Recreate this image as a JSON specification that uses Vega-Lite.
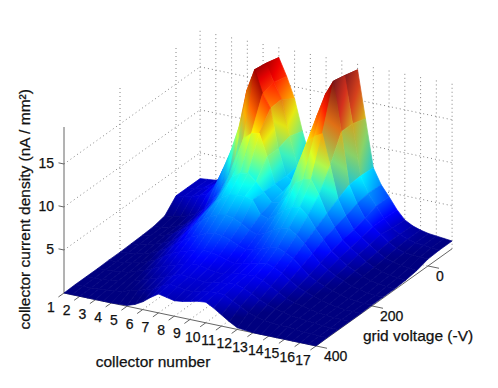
{"$schema":"https://vega.github.io/schema/vega-lite/v6.json","width":498,"height":388,"autosize":{"type":"fit","contains":"padding"},"padding":0,"background":"white","config":{"view":{"stroke":null}},
"datasets":{
"lines":[
{"k":"g","c":1,"v":200,"z":0,"c2":1,"v2":200,"z2":19.3},{"k":"g","c":1,"v":0,"z":0,"c2":1,"v2":0,"z2":19.3},{"k":"g","c":1,"v":-86,"z":0,"c2":1,"v2":-86,"z2":19.3},
{"k":"g","c":2,"v":-86,"z":0,"c2":2,"v2":-86,"z2":19.3},{"k":"g","c":3,"v":-86,"z":0,"c2":3,"v2":-86,"z2":19.3},{"k":"g","c":4,"v":-86,"z":0,"c2":4,"v2":-86,"z2":19.3},{"k":"g","c":5,"v":-86,"z":0,"c2":5,"v2":-86,"z2":19.3},{"k":"g","c":6,"v":-86,"z":0,"c2":6,"v2":-86,"z2":19.3},{"k":"g","c":7,"v":-86,"z":0,"c2":7,"v2":-86,"z2":19.3},{"k":"g","c":8,"v":-86,"z":0,"c2":8,"v2":-86,"z2":19.3},{"k":"g","c":9,"v":-86,"z":0,"c2":9,"v2":-86,"z2":19.3},{"k":"g","c":10,"v":-86,"z":0,"c2":10,"v2":-86,"z2":19.3},{"k":"g","c":11,"v":-86,"z":0,"c2":11,"v2":-86,"z2":19.3},{"k":"g","c":12,"v":-86,"z":0,"c2":12,"v2":-86,"z2":19.3},{"k":"g","c":13,"v":-86,"z":0,"c2":13,"v2":-86,"z2":19.3},{"k":"g","c":14,"v":-86,"z":0,"c2":14,"v2":-86,"z2":19.3},{"k":"g","c":15,"v":-86,"z":0,"c2":15,"v2":-86,"z2":19.3},{"k":"g","c":16,"v":-86,"z":0,"c2":16,"v2":-86,"z2":19.3},{"k":"g","c":17,"v":-86,"z":0,"c2":17,"v2":-86,"z2":19.3},
{"k":"g","c":1,"v":400,"z":5,"c2":1,"v2":-86,"z2":5},{"k":"g","c":1,"v":400,"z":10,"c2":1,"v2":-86,"z2":10},{"k":"g","c":1,"v":400,"z":15,"c2":1,"v2":-86,"z2":15},
{"k":"g","c":1,"v":-86,"z":5,"c2":17,"v2":-86,"z2":5},{"k":"g","c":1,"v":-86,"z":10,"c2":17,"v2":-86,"z2":10},{"k":"g","c":1,"v":-86,"z":15,"c2":17,"v2":-86,"z2":15},
{"k":"g","c":2,"v":400,"z":0,"c2":2,"v2":-86,"z2":0},{"k":"g","c":3,"v":400,"z":0,"c2":3,"v2":-86,"z2":0},{"k":"g","c":4,"v":400,"z":0,"c2":4,"v2":-86,"z2":0},{"k":"g","c":5,"v":400,"z":0,"c2":5,"v2":-86,"z2":0},{"k":"g","c":6,"v":400,"z":0,"c2":6,"v2":-86,"z2":0},{"k":"g","c":7,"v":400,"z":0,"c2":7,"v2":-86,"z2":0},{"k":"g","c":8,"v":400,"z":0,"c2":8,"v2":-86,"z2":0},{"k":"g","c":9,"v":400,"z":0,"c2":9,"v2":-86,"z2":0},{"k":"g","c":10,"v":400,"z":0,"c2":10,"v2":-86,"z2":0},{"k":"g","c":11,"v":400,"z":0,"c2":11,"v2":-86,"z2":0},{"k":"g","c":12,"v":400,"z":0,"c2":12,"v2":-86,"z2":0},{"k":"g","c":13,"v":400,"z":0,"c2":13,"v2":-86,"z2":0},
{"k":"g","c":1,"v":200,"z":0,"c2":17,"v2":200,"z2":0},{"k":"g","c":1,"v":0,"z":0,"c2":17,"v2":0,"z2":0},
{"k":"a","c":1,"v":400,"z":0,"c2":1,"v2":400,"z2":19.3},{"k":"a","c":1,"v":400,"z":0,"c2":17,"v2":400,"z2":0},{"k":"a","c":17,"v":400,"z":0,"c2":17,"v2":-86,"z2":0},
{"k":"a","c":1,"v":400,"z":5,"c2":0.65,"v2":400,"z2":5},{"k":"a","c":1,"v":400,"z":10,"c2":0.65,"v2":400,"z2":10},{"k":"a","c":1,"v":400,"z":15,"c2":0.65,"v2":400,"z2":15},
{"k":"a","c":1,"v":400,"z":0,"c2":1,"v2":420,"z2":0},{"k":"a","c":2,"v":400,"z":0,"c2":2,"v2":420,"z2":0},{"k":"a","c":3,"v":400,"z":0,"c2":3,"v2":420,"z2":0},{"k":"a","c":4,"v":400,"z":0,"c2":4,"v2":420,"z2":0},{"k":"a","c":5,"v":400,"z":0,"c2":5,"v2":420,"z2":0},{"k":"a","c":6,"v":400,"z":0,"c2":6,"v2":420,"z2":0},{"k":"a","c":7,"v":400,"z":0,"c2":7,"v2":420,"z2":0},{"k":"a","c":8,"v":400,"z":0,"c2":8,"v2":420,"z2":0},{"k":"a","c":9,"v":400,"z":0,"c2":9,"v2":420,"z2":0},{"k":"a","c":10,"v":400,"z":0,"c2":10,"v2":420,"z2":0},{"k":"a","c":11,"v":400,"z":0,"c2":11,"v2":420,"z2":0},{"k":"a","c":12,"v":400,"z":0,"c2":12,"v2":420,"z2":0},{"k":"a","c":13,"v":400,"z":0,"c2":13,"v2":420,"z2":0},{"k":"a","c":14,"v":400,"z":0,"c2":14,"v2":420,"z2":0},{"k":"a","c":15,"v":400,"z":0,"c2":15,"v2":420,"z2":0},{"k":"a","c":16,"v":400,"z":0,"c2":16,"v2":420,"z2":0},{"k":"a","c":17,"v":400,"z":0,"c2":17,"v2":420,"z2":0},
{"k":"a","c":17,"v":400,"z":0,"c2":17.7,"v2":400,"z2":0},{"k":"a","c":17,"v":200,"z":0,"c2":17.7,"v2":200,"z2":0},{"k":"a","c":17,"v":0,"z":0,"c2":17.7,"v2":0,"z2":0}
],
"clabels":[{"t":"1","c":1,"v":400,"z":0},{"t":"2","c":2,"v":400,"z":0},{"t":"3","c":3,"v":400,"z":0},{"t":"4","c":4,"v":400,"z":0},{"t":"5","c":5,"v":400,"z":0},{"t":"6","c":6,"v":400,"z":0},{"t":"7","c":7,"v":400,"z":0},{"t":"8","c":8,"v":400,"z":0},{"t":"9","c":9,"v":400,"z":0},{"t":"10","c":10,"v":400,"z":0},{"t":"11","c":11,"v":400,"z":0},{"t":"12","c":12,"v":400,"z":0},{"t":"13","c":13,"v":400,"z":0},{"t":"14","c":14,"v":400,"z":0},{"t":"15","c":15,"v":400,"z":0},{"t":"16","c":16,"v":400,"z":0},{"t":"17","c":17,"v":400,"z":0}],
"vlabels":[{"t":"0","c":17,"v":0,"z":0},{"t":"200","c":17,"v":200,"z":0},{"t":"400","c":17,"v":400,"z":0}],
"zlabels":[{"t":"5","c":1,"v":400,"z":5},{"t":"10","c":1,"v":400,"z":10},{"t":"15","c":1,"v":400,"z":15}],
"nodes":[
{"c":1,"v":-86,"z":2},{"c":1.5,"v":-86,"z":2.1},{"c":2,"v":-86,"z":2.2},{"c":2.5,"v":-86,"z":2.6},{"c":3,"v":-86,"z":3.2},{"c":3.5,"v":-86,"z":4.5},{"c":4,"v":-86,"z":6.5},{"c":4.5,"v":-86,"z":9.5},{"c":5,"v":-86,"z":13},{"c":5.5,"v":-86,"z":16},{"c":6,"v":-86,"z":18},{"c":6.5,"v":-86,"z":16},{"c":7,"v":-86,"z":13.6},{"c":7.5,"v":-86,"z":10},{"c":8,"v":-86,"z":7},{"c":8.5,"v":-86,"z":6},{"c":9,"v":-86,"z":6.5},{"c":9.5,"v":-86,"z":9},{"c":10,"v":-86,"z":13},{"c":10.5,"v":-86,"z":16},{"c":11,"v":-86,"z":18.5},{"c":11.5,"v":-86,"z":13},{"c":12,"v":-86,"z":7.5},{"c":12.5,"v":-86,"z":5.7},{"c":13,"v":-86,"z":4.5},{"c":13.5,"v":-86,"z":3.2},{"c":14,"v":-86,"z":2.2},{"c":14.5,"v":-86,"z":1.7},{"c":15,"v":-86,"z":1.4},{"c":15.5,"v":-86,"z":1.2},{"c":16,"v":-86,"z":1.1},{"c":16.5,"v":-86,"z":1},{"c":17,"v":-86,"z":0.9},
{"c":1,"v":-40,"z":2},{"c":1.5,"v":-40,"z":2.1},{"c":2,"v":-40,"z":2.3},{"c":2.5,"v":-40,"z":2.7},{"c":3,"v":-40,"z":3.3},{"c":3.5,"v":-40,"z":4.6},{"c":4,"v":-40,"z":6.6},{"c":4.5,"v":-40,"z":9.6},{"c":5,"v":-40,"z":13},{"c":5.5,"v":-40,"z":16.3},{"c":6,"v":-40,"z":18.4},{"c":6.5,"v":-40,"z":16.4},{"c":7,"v":-40,"z":14.6},{"c":7.5,"v":-40,"z":10.5},{"c":8,"v":-40,"z":7.2},{"c":8.5,"v":-40,"z":6.3},{"c":9,"v":-40,"z":7},{"c":9.5,"v":-40,"z":9.8},{"c":10,"v":-40,"z":13.8},{"c":10.5,"v":-40,"z":16.8},{"c":11,"v":-40,"z":18.9},{"c":11.5,"v":-40,"z":13.5},{"c":12,"v":-40,"z":7.6},{"c":12.5,"v":-40,"z":5.8},{"c":13,"v":-40,"z":4.5},{"c":13.5,"v":-40,"z":3.2},{"c":14,"v":-40,"z":2.3},{"c":14.5,"v":-40,"z":1.8},{"c":15,"v":-40,"z":1.4},{"c":15.5,"v":-40,"z":1.2},{"c":16,"v":-40,"z":1.1},{"c":16.5,"v":-40,"z":1},{"c":17,"v":-40,"z":0.9},
{"c":1,"v":0,"z":2},{"c":1.5,"v":0,"z":2.1},{"c":2,"v":0,"z":2.3},{"c":2.5,"v":0,"z":2.6},{"c":3,"v":0,"z":3},{"c":3.5,"v":0,"z":4.2},{"c":4,"v":0,"z":6.3},{"c":4.5,"v":0,"z":8.6},{"c":5,"v":0,"z":11.5},{"c":5.5,"v":0,"z":16},{"c":6,"v":0,"z":18.6},{"c":6.5,"v":0,"z":16},{"c":7,"v":0,"z":14.5},{"c":7.5,"v":0,"z":10},{"c":8,"v":0,"z":7},{"c":8.5,"v":0,"z":6.5},{"c":9,"v":0,"z":8},{"c":9.5,"v":0,"z":12},{"c":10,"v":0,"z":15},{"c":10.5,"v":0,"z":17.5},{"c":11,"v":0,"z":19.2},{"c":11.5,"v":0,"z":13.5},{"c":12,"v":0,"z":7.5},{"c":12.5,"v":0,"z":5.5},{"c":13,"v":0,"z":4},{"c":13.5,"v":0,"z":3.2},{"c":14,"v":0,"z":2.5},{"c":14.5,"v":0,"z":1.8},{"c":15,"v":0,"z":1.3},{"c":15.5,"v":0,"z":1},{"c":16,"v":0,"z":0.9},{"c":16.5,"v":0,"z":0.85},{"c":17,"v":0,"z":0.8},
{"c":1,"v":40,"z":0.6},{"c":1.5,"v":40,"z":0.7},{"c":2,"v":40,"z":0.9},{"c":2.5,"v":40,"z":1.2},{"c":3,"v":40,"z":1.6},{"c":3.5,"v":40,"z":2.4},{"c":4,"v":40,"z":3.5},{"c":4.5,"v":40,"z":4.8},{"c":5,"v":40,"z":6.5},{"c":5.5,"v":40,"z":9},{"c":6,"v":40,"z":11.5},{"c":6.5,"v":40,"z":12.3},{"c":7,"v":40,"z":12.5},{"c":7.5,"v":40,"z":10},{"c":8,"v":40,"z":7},{"c":8.5,"v":40,"z":6.3},{"c":9,"v":40,"z":7.5},{"c":9.5,"v":40,"z":10},{"c":10,"v":40,"z":12.5},{"c":10.5,"v":40,"z":13.5},{"c":11,"v":40,"z":14},{"c":11.5,"v":40,"z":10.5},{"c":12,"v":40,"z":6.8},{"c":12.5,"v":40,"z":5},{"c":13,"v":40,"z":3.6},{"c":13.5,"v":40,"z":2.9},{"c":14,"v":40,"z":2.2},{"c":14.5,"v":40,"z":1.6},{"c":15,"v":40,"z":1.1},{"c":15.5,"v":40,"z":0.8},{"c":16,"v":40,"z":0.6},{"c":16.5,"v":40,"z":0.5},{"c":17,"v":40,"z":0.4},
{"c":1,"v":80,"z":0.3},{"c":1.5,"v":80,"z":0.4},{"c":2,"v":80,"z":0.6},{"c":2.5,"v":80,"z":0.9},{"c":3,"v":80,"z":1.3},{"c":3.5,"v":80,"z":2},{"c":4,"v":80,"z":2.8},{"c":4.5,"v":80,"z":3.8},{"c":5,"v":80,"z":5},{"c":5.5,"v":80,"z":6.5},{"c":6,"v":80,"z":8},{"c":6.5,"v":80,"z":8.6},{"c":7,"v":80,"z":8.8},{"c":7.5,"v":80,"z":8},{"c":8,"v":80,"z":7},{"c":8.5,"v":80,"z":6},{"c":9,"v":80,"z":6.2},{"c":9.5,"v":80,"z":7.2},{"c":10,"v":80,"z":8.8},{"c":10.5,"v":80,"z":9.4},{"c":11,"v":80,"z":9.6},{"c":11.5,"v":80,"z":8},{"c":12,"v":80,"z":6},{"c":12.5,"v":80,"z":4.6},{"c":13,"v":80,"z":3.3},{"c":13.5,"v":80,"z":2.6},{"c":14,"v":80,"z":2},{"c":14.5,"v":80,"z":1.4},{"c":15,"v":80,"z":0.9},{"c":15.5,"v":80,"z":0.6},{"c":16,"v":80,"z":0.4},{"c":16.5,"v":80,"z":0.3},{"c":17,"v":80,"z":0.2},
{"c":1,"v":120,"z":0.2},{"c":1.5,"v":120,"z":0.3},{"c":2,"v":120,"z":0.5},{"c":2.5,"v":120,"z":0.8},{"c":3,"v":120,"z":1.2},{"c":3.5,"v":120,"z":1.8},{"c":4,"v":120,"z":2.5},{"c":4.5,"v":120,"z":3.4},{"c":5,"v":120,"z":4.5},{"c":5.5,"v":120,"z":5.5},{"c":6,"v":120,"z":6.5},{"c":6.5,"v":120,"z":7},{"c":7,"v":120,"z":7.2},{"c":7.5,"v":120,"z":7.2},{"c":8,"v":120,"z":7},{"c":8.5,"v":120,"z":5.5},{"c":9,"v":120,"z":5.2},{"c":9.5,"v":120,"z":5.8},{"c":10,"v":120,"z":6.6},{"c":10.5,"v":120,"z":7.1},{"c":11,"v":120,"z":7.3},{"c":11.5,"v":120,"z":6.5},{"c":12,"v":120,"z":5.2},{"c":12.5,"v":120,"z":4.1},{"c":13,"v":120,"z":3},{"c":13.5,"v":120,"z":2.3},{"c":14,"v":120,"z":1.7},{"c":14.5,"v":120,"z":1.2},{"c":15,"v":120,"z":0.8},{"c":15.5,"v":120,"z":0.5},{"c":16,"v":120,"z":0.3},{"c":16.5,"v":120,"z":0.2},{"c":17,"v":120,"z":0.1},
{"c":1,"v":160,"z":0.15},{"c":1.5,"v":160,"z":0.25},{"c":2,"v":160,"z":0.4},{"c":2.5,"v":160,"z":0.7},{"c":3,"v":160,"z":1},{"c":3.5,"v":160,"z":1.4},{"c":4,"v":160,"z":2},{"c":4.5,"v":160,"z":2.9},{"c":5,"v":160,"z":3.8},{"c":5.5,"v":160,"z":4.6},{"c":6,"v":160,"z":5.2},{"c":6.5,"v":160,"z":5.6},{"c":7,"v":160,"z":5.8},{"c":7.5,"v":160,"z":5.6},{"c":8,"v":160,"z":5.2},{"c":8.5,"v":160,"z":4.6},{"c":9,"v":160,"z":4.3},{"c":9.5,"v":160,"z":4.6},{"c":10,"v":160,"z":5.2},{"c":10.5,"v":160,"z":5.6},{"c":11,"v":160,"z":5.8},{"c":11.5,"v":160,"z":5.2},{"c":12,"v":160,"z":4.4},{"c":12.5,"v":160,"z":3.4},{"c":13,"v":160,"z":2.5},{"c":13.5,"v":160,"z":1.9},{"c":14,"v":160,"z":1.4},{"c":14.5,"v":160,"z":1},{"c":15,"v":160,"z":0.6},{"c":15.5,"v":160,"z":0.4},{"c":16,"v":160,"z":0.2},{"c":16.5,"v":160,"z":0.1},{"c":17,"v":160,"z":0.1},
{"c":1,"v":200,"z":0.1},{"c":1.5,"v":200,"z":0.2},{"c":2,"v":200,"z":0.3},{"c":2.5,"v":200,"z":0.5},{"c":3,"v":200,"z":0.8},{"c":3.5,"v":200,"z":1.2},{"c":4,"v":200,"z":1.7},{"c":4.5,"v":200,"z":2.4},{"c":5,"v":200,"z":3},{"c":5.5,"v":200,"z":3.6},{"c":6,"v":200,"z":4},{"c":6.5,"v":200,"z":4.4},{"c":7,"v":200,"z":4.6},{"c":7.5,"v":200,"z":4.5},{"c":8,"v":200,"z":4.2},{"c":8.5,"v":200,"z":3.8},{"c":9,"v":200,"z":3.5},{"c":9.5,"v":200,"z":3.7},{"c":10,"v":200,"z":4},{"c":10.5,"v":200,"z":4.3},{"c":11,"v":200,"z":4.5},{"c":11.5,"v":200,"z":4.1},{"c":12,"v":200,"z":3.6},{"c":12.5,"v":200,"z":2.8},{"c":13,"v":200,"z":2},{"c":13.5,"v":200,"z":1.5},{"c":14,"v":200,"z":1.1},{"c":14.5,"v":200,"z":0.8},{"c":15,"v":200,"z":0.5},{"c":15.5,"v":200,"z":0.3},{"c":16,"v":200,"z":0.2},{"c":16.5,"v":200,"z":0.1},{"c":17,"v":200,"z":0.1},
{"c":1,"v":240,"z":0.1},{"c":1.5,"v":240,"z":0.1},{"c":2,"v":240,"z":0.2},{"c":2.5,"v":240,"z":0.4},{"c":3,"v":240,"z":0.6},{"c":3.5,"v":240,"z":0.9},{"c":4,"v":240,"z":1.3},{"c":4.5,"v":240,"z":1.9},{"c":5,"v":240,"z":2.4},{"c":5.5,"v":240,"z":2.8},{"c":6,"v":240,"z":3.1},{"c":6.5,"v":240,"z":3.4},{"c":7,"v":240,"z":3.6},{"c":7.5,"v":240,"z":3.5},{"c":8,"v":240,"z":3.3},{"c":8.5,"v":240,"z":3},{"c":9,"v":240,"z":2.8},{"c":9.5,"v":240,"z":3},{"c":10,"v":240,"z":3.2},{"c":10.5,"v":240,"z":3.4},{"c":11,"v":240,"z":3.6},{"c":11.5,"v":240,"z":3.3},{"c":12,"v":240,"z":2.8},{"c":12.5,"v":240,"z":2.2},{"c":13,"v":240,"z":1.6},{"c":13.5,"v":240,"z":1.2},{"c":14,"v":240,"z":0.9},{"c":14.5,"v":240,"z":0.6},{"c":15,"v":240,"z":0.4},{"c":15.5,"v":240,"z":0.2},{"c":16,"v":240,"z":0.1},{"c":16.5,"v":240,"z":0.1},{"c":17,"v":240,"z":0.05},
{"c":1,"v":280,"z":0.05},{"c":1.5,"v":280,"z":0.1},{"c":2,"v":280,"z":0.15},{"c":2.5,"v":280,"z":0.25},{"c":3,"v":280,"z":0.4},{"c":3.5,"v":280,"z":0.7},{"c":4,"v":280,"z":1},{"c":4.5,"v":280,"z":1.4},{"c":5,"v":280,"z":1.8},{"c":5.5,"v":280,"z":2.1},{"c":6,"v":280,"z":2.4},{"c":6.5,"v":280,"z":2.7},{"c":7,"v":280,"z":2.9},{"c":7.5,"v":280,"z":2.9},{"c":8,"v":280,"z":2.7},{"c":8.5,"v":280,"z":2.5},{"c":9,"v":280,"z":2.5},{"c":9.5,"v":280,"z":2.7},{"c":10,"v":280,"z":2.9},{"c":10.5,"v":280,"z":3},{"c":11,"v":280,"z":3},{"c":11.5,"v":280,"z":2.7},{"c":12,"v":280,"z":2.2},{"c":12.5,"v":280,"z":1.7},{"c":13,"v":280,"z":1.2},{"c":13.5,"v":280,"z":0.9},{"c":14,"v":280,"z":0.7},{"c":14.5,"v":280,"z":0.5},{"c":15,"v":280,"z":0.3},{"c":15.5,"v":280,"z":0.2},{"c":16,"v":280,"z":0.1},{"c":16.5,"v":280,"z":0.1},{"c":17,"v":280,"z":0.05},
{"c":1,"v":320,"z":0.05},{"c":1.5,"v":320,"z":0.05},{"c":2,"v":320,"z":0.1},{"c":2.5,"v":320,"z":0.2},{"c":3,"v":320,"z":0.3},{"c":3.5,"v":320,"z":0.5},{"c":4,"v":320,"z":0.7},{"c":4.5,"v":320,"z":1},{"c":5,"v":320,"z":1.3},{"c":5.5,"v":320,"z":1.6},{"c":6,"v":320,"z":1.9},{"c":6.5,"v":320,"z":2.3},{"c":7,"v":320,"z":2.6},{"c":7.5,"v":320,"z":2.5},{"c":8,"v":320,"z":2.4},{"c":8.5,"v":320,"z":2.3},{"c":9,"v":320,"z":2.4},{"c":9.5,"v":320,"z":2.6},{"c":10,"v":320,"z":2.7},{"c":10.5,"v":320,"z":2.8},{"c":11,"v":320,"z":2.5},{"c":11.5,"v":320,"z":2.1},{"c":12,"v":320,"z":1.6},{"c":12.5,"v":320,"z":1.2},{"c":13,"v":320,"z":0.9},{"c":13.5,"v":320,"z":0.7},{"c":14,"v":320,"z":0.5},{"c":14.5,"v":320,"z":0.4},{"c":15,"v":320,"z":0.3},{"c":15.5,"v":320,"z":0.2},{"c":16,"v":320,"z":0.1},{"c":16.5,"v":320,"z":0.05},{"c":17,"v":320,"z":0.05},
{"c":1,"v":360,"z":0.05},{"c":1.5,"v":360,"z":0.05},{"c":2,"v":360,"z":0.05},{"c":2.5,"v":360,"z":0.1},{"c":3,"v":360,"z":0.2},{"c":3.5,"v":360,"z":0.3},{"c":4,"v":360,"z":0.4},{"c":4.5,"v":360,"z":0.7},{"c":5,"v":360,"z":0.9},{"c":5.5,"v":360,"z":1.2},{"c":6,"v":360,"z":1.5},{"c":6.5,"v":360,"z":2},{"c":7,"v":360,"z":2.4},{"c":7.5,"v":360,"z":2.3},{"c":8,"v":360,"z":2.1},{"c":8.5,"v":360,"z":2.1},{"c":9,"v":360,"z":2.3},{"c":9.5,"v":360,"z":2.5},{"c":10,"v":360,"z":2.6},{"c":10.5,"v":360,"z":2.5},{"c":11,"v":360,"z":2},{"c":11.5,"v":360,"z":1.5},{"c":12,"v":360,"z":1},{"c":12.5,"v":360,"z":0.7},{"c":13,"v":360,"z":0.5},{"c":13.5,"v":360,"z":0.4},{"c":14,"v":360,"z":0.3},{"c":14.5,"v":360,"z":0.3},{"c":15,"v":360,"z":0.2},{"c":15.5,"v":360,"z":0.1},{"c":16,"v":360,"z":0.1},{"c":16.5,"v":360,"z":0.05},{"c":17,"v":360,"z":0.05},
{"c":1,"v":400,"z":0},{"c":1.5,"v":400,"z":0},{"c":2,"v":400,"z":0},{"c":2.5,"v":400,"z":0},{"c":3,"v":400,"z":0},{"c":3.5,"v":400,"z":0},{"c":4,"v":400,"z":0},{"c":4.5,"v":400,"z":0.05},{"c":5,"v":400,"z":0.1},{"c":5.5,"v":400,"z":0.4},{"c":6,"v":400,"z":0.9},{"c":6.5,"v":400,"z":1.6},{"c":7,"v":400,"z":2.2},{"c":7.5,"v":400,"z":2},{"c":8,"v":400,"z":1.8},{"c":8.5,"v":400,"z":1.9},{"c":9,"v":400,"z":2.1},{"c":9.5,"v":400,"z":2.3},{"c":10,"v":400,"z":2.4},{"c":10.5,"v":400,"z":1.9},{"c":11,"v":400,"z":1.3},{"c":11.5,"v":400,"z":0.7},{"c":12,"v":400,"z":0.2},{"c":12.5,"v":400,"z":0.1},{"c":13,"v":400,"z":0},{"c":13.5,"v":400,"z":0},{"c":14,"v":400,"z":0},{"c":14.5,"v":400,"z":0},{"c":15,"v":400,"z":0},{"c":15.5,"v":400,"z":0},{"c":16,"v":400,"z":0},{"c":16.5,"v":400,"z":0},{"c":17,"v":400,"z":0}
]},
"data":{"name":"clabels"},
"encoding":{
"x":{"field":"sx","type":"quantitative","axis":null,"scale":{"domain":[0,498],"nice":false,"zero":false}},
"y":{"field":"sy","type":"quantitative","axis":null,"scale":{"domain":[388,0],"nice":false,"zero":false}}},
"layer":[
{"data":{"name":"lines"},"transform":[{"filter":"datum.k=='g'"},{"calculate":"64+15.75*(datum.c-1)+0.28*(400-datum.v)","as":"sx"},{"calculate":"293+3.31*(datum.c-1)-0.2*(400-datum.v)-8.6*datum.z","as":"sy"},{"calculate":"64+15.75*(datum.c2-1)+0.28*(400-datum.v2)","as":"sx2"},{"calculate":"293+3.31*(datum.c2-1)-0.2*(400-datum.v2)-8.6*datum.z2","as":"sy2"}],
"mark":{"type":"rule","color":"#777777","strokeWidth":0.9,"strokeDash":[1,3]},"encoding":{"x2":{"field":"sx2"},"y2":{"field":"sy2"}}},
{"data":{"name":"lines"},"transform":[{"filter":"datum.k=='a'"},{"calculate":"64+15.75*(datum.c-1)+0.28*(400-datum.v)","as":"sx"},{"calculate":"293+3.31*(datum.c-1)-0.2*(400-datum.v)-8.6*datum.z","as":"sy"},{"calculate":"64+15.75*(datum.c2-1)+0.28*(400-datum.v2)","as":"sx2"},{"calculate":"293+3.31*(datum.c2-1)-0.2*(400-datum.v2)-8.6*datum.z2","as":"sy2"}],
"mark":{"type":"rule","color":"#666666","strokeWidth":1},"encoding":{"x2":{"field":"sx2"},"y2":{"field":"sy2"}}},
{"data":{"name":"nodes"},"transform":[
{"window":[{"op":"lead","field":"z","as":"z10"},{"op":"lead","field":"c","as":"c1"}],"groupby":["v"],"sort":[{"field":"c","order":"ascending"}]},
{"window":[{"op":"lead","field":"z","as":"z01"},{"op":"lead","field":"z10","as":"z11"},{"op":"lead","field":"v","as":"v1"}],"groupby":["c"],"sort":[{"field":"v","order":"ascending"}]},
{"filter":"datum.z11!=null"},
{"calculate":"clamp((-((datum.z10+datum.z11-datum.z-datum.z01)/2/(datum.c1-datum.c))-4)/16*0.6,0,0.65)","as":"s"},
{"calculate":"[datum.z,datum.z10,datum.z11,datum.z01]","as":"zs"},
{"calculate":"[64+15.75*(datum.c-1)+0.28*(400-datum.v),64+15.75*(datum.c1-1)+0.28*(400-datum.v),64+15.75*(datum.c1-1)+0.28*(400-datum.v1),64+15.75*(datum.c-1)+0.28*(400-datum.v1)]","as":"xs"},
{"calculate":"[293+3.31*(datum.c-1)-0.2*(400-datum.v)-8.6*datum.z,293+3.31*(datum.c1-1)-0.2*(400-datum.v)-8.6*datum.z10,293+3.31*(datum.c1-1)-0.2*(400-datum.v1)-8.6*datum.z11,293+3.31*(datum.c-1)-0.2*(400-datum.v1)-8.6*datum.z01]","as":"ys"},
{"calculate":"max(datum.zs[0],datum.zs[1],datum.zs[2],datum.zs[3])","as":"zhi"},
{"calculate":"min(datum.zs[0],datum.zs[1],datum.zs[2],datum.zs[3])","as":"zlo"},
{"calculate":"indexof(datum.zs,datum.zhi)","as":"ihi"},
{"calculate":"indexof(datum.zs,datum.zlo)","as":"ilo"},
{"calculate":"min(datum.xs[0],datum.xs[1],datum.xs[2],datum.xs[3])","as":"bx"},
{"calculate":"max(datum.xs[0],datum.xs[1],datum.xs[2],datum.xs[3])-datum.bx","as":"bw"},
{"calculate":"min(datum.ys[0],datum.ys[1],datum.ys[2],datum.ys[3])","as":"by"},
{"calculate":"max(datum.ys[0],datum.ys[1],datum.ys[2],datum.ys[3])-datum.by","as":"bh"},
{"calculate":"clamp((datum.zhi-0.9)/18.3,0,1)","as":"t1"},
{"calculate":"clamp(((datum.zhi+datum.zlo)/2-0.9)/18.3,0,1)","as":"t2"},
{"calculate":"clamp((datum.zlo-0.9)/18.3,0,1)","as":"t3"},
{"calculate":"'rgb('+floor((1-datum.s)*255*clamp(1.5-abs(4*datum.t1-3),0,1)+datum.s*100)+','+floor((1-datum.s)*255*clamp(1.5-abs(4*datum.t1-2),0,1)+datum.s*100)+','+floor((1-datum.s)*255*clamp(1.5-abs(4*datum.t1-1),0,1)+datum.s*110)+')'","as":"chi"},
{"calculate":"'rgb('+floor((1-datum.s)*255*clamp(1.5-abs(4*datum.t2-3),0,1)+datum.s*100)+','+floor((1-datum.s)*255*clamp(1.5-abs(4*datum.t2-2),0,1)+datum.s*100)+','+floor((1-datum.s)*255*clamp(1.5-abs(4*datum.t2-1),0,1)+datum.s*110)+')'","as":"cmid"},
{"calculate":"'rgb('+floor((1-datum.s)*255*clamp(1.5-abs(4*datum.t3-3),0,1)+datum.s*100)+','+floor((1-datum.s)*255*clamp(1.5-abs(4*datum.t3-2),0,1)+datum.s*100)+','+floor((1-datum.s)*255*clamp(1.5-abs(4*datum.t3-1),0,1)+datum.s*110)+')'","as":"clo"},
{"calculate":"{gradient:'linear',x1:(datum.xs[datum.ihi]-datum.bx)/datum.bw,y1:(datum.ys[datum.ihi]-datum.by)/datum.bh,x2:(datum.xs[datum.ilo]-datum.bx)/datum.bw,y2:(datum.ys[datum.ilo]-datum.by)/datum.bh,stops:[{offset:0,color:datum.chi},{offset:0.5,color:datum.cmid},{offset:1,color:datum.clo}]}","as":"grad"},
{"calculate":"datum.c+'_'+datum.v","as":"id"},
{"fold":["z","z10","z11","z01"]},
{"calculate":"indexof(['z','z10','z11','z01'],datum.key)","as":"corner"},
{"calculate":"datum.xs[datum.corner]","as":"sx"},
{"calculate":"datum.ys[datum.corner]","as":"sy"}],
"mark":{"type":"line","interpolate":"linear-closed","strokeWidth":0.7},
"encoding":{"detail":{"field":"id"},"order":{"field":"corner","type":"quantitative"},"fill":{"field":"grad","type":"nominal","scale":null},"stroke":{"field":"grad","type":"nominal","scale":null}}},
{"data":{"name":"clabels"},"transform":[{"calculate":"64+15.75*(datum.c-1)+0.28*(400-datum.v)","as":"sx"},{"calculate":"293+3.31*(datum.c-1)-0.2*(400-datum.v)-8.6*datum.z","as":"sy"}],"mark":{"type":"text","font":"Liberation Sans","fontSize":14,"color":"#111111","stroke":"#111111","strokeWidth":0.25,"dx":-13,"dy":15},"encoding":{"text":{"field":"t"}}},
{"data":{"name":"vlabels"},"transform":[{"calculate":"64+15.75*(datum.c-1)+0.28*(400-datum.v)","as":"sx"},{"calculate":"293+3.31*(datum.c-1)-0.2*(400-datum.v)-8.6*datum.z","as":"sy"}],"mark":{"type":"text","font":"Liberation Sans","fontSize":14,"color":"#111111","stroke":"#111111","strokeWidth":0.25,"align":"left","dx":8,"dy":11},"encoding":{"text":{"field":"t"}}},
{"data":{"name":"zlabels"},"transform":[{"calculate":"64+15.75*(datum.c-1)+0.28*(400-datum.v)","as":"sx"},{"calculate":"293+3.31*(datum.c-1)-0.2*(400-datum.v)-8.6*datum.z","as":"sy"}],"mark":{"type":"text","font":"Liberation Sans","fontSize":14,"color":"#111111","stroke":"#111111","strokeWidth":0.25,"align":"right","dx":-10,"dy":0},"encoding":{"text":{"field":"t"}}},
{"data":{"values":[{"t":"collector number","c":9,"v":400,"z":0}]},"transform":[{"calculate":"64+15.75*(datum.c-1)+0.28*(400-datum.v)","as":"sx"},{"calculate":"293+3.31*(datum.c-1)-0.2*(400-datum.v)-8.6*datum.z","as":"sy"}],"mark":{"type":"text","font":"Liberation Sans","fontSize":15.5,"color":"#111111","stroke":"#111111","strokeWidth":0.25,"dx":-37,"dy":43},"encoding":{"text":{"field":"t"}}},
{"data":{"values":[{"t":"grid voltage (-V)","c":17,"v":200,"z":0}]},"transform":[{"calculate":"64+15.75*(datum.c-1)+0.28*(400-datum.v)","as":"sx"},{"calculate":"293+3.31*(datum.c-1)-0.2*(400-datum.v)-8.6*datum.z","as":"sy"}],"mark":{"type":"text","font":"Liberation Sans","fontSize":15.5,"color":"#111111","stroke":"#111111","strokeWidth":0.25,"dx":46,"dy":30},"encoding":{"text":{"field":"t"}}},
{"data":{"values":[{"t":"collector current density (nA / mm²)","c":1,"v":400,"z":9.5}]},"transform":[{"calculate":"64+15.75*(datum.c-1)+0.28*(400-datum.v)","as":"sx"},{"calculate":"293+3.31*(datum.c-1)-0.2*(400-datum.v)-8.6*datum.z","as":"sy"}],"mark":{"type":"text","font":"Liberation Sans","fontSize":15.5,"color":"#111111","stroke":"#111111","strokeWidth":0.25,"angle":270,"dx":2,"dy":-39},"encoding":{"text":{"field":"t"}}}
]}
